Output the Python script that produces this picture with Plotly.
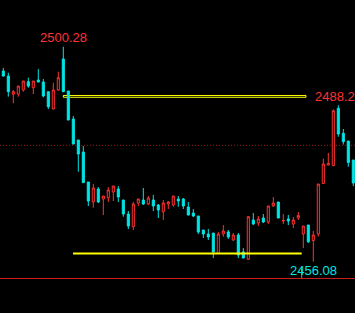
import plotly.graph_objects as go

# ---- data ----
opens = [2495.28, 2494.25, 2490.49, 2490.55, 2491.38, 2493.08, 2491.85, 2493.43, 2493.02, 2491.03,
         2487.47, 2491.38, 2497.75, 2491.17, 2485.41, 2481.10, 2478.63, 2472.46, 2468.35, 2471.02,
         2468.97, 2469.23, 2470.41, 2471.02, 2468.76, 2465.88, 2463.27, 2468.14, 2468.76, 2467.94,
         2468.76, 2467.73, 2466.35, 2467.94, 2467.73, 2468.97, 2468.97, 2467.32, 2466.09, 2465.47,
         2462.59, 2461.77, 2461.97, 2457.80, 2461.77, 2462.18, 2460.54, 2461.56, 2458.07, 2456.57,
         2464.65, 2464.03, 2465.06, 2464.24, 2467.53, 2468.35, 2464.44, 2464.85, 2463.83, 2465.06,
         2461.77, 2463.62, 2460.43, 2461.77, 2472.15, 2475.96, 2475.81, 2487.61, 2482.47, 2480.89,
         2476.98]
highs = [2495.90, 2494.93, 2491.38, 2492.20, 2493.23, 2493.91, 2493.23, 2495.69, 2493.64, 2491.03,
         2492.88, 2495.14, 2500.28, 2491.17, 2486.03, 2481.10, 2479.86, 2472.46, 2472.05, 2471.43,
         2469.58, 2471.43, 2471.64, 2471.64, 2468.76, 2466.50, 2468.35, 2468.97, 2471.23, 2469.58,
         2469.79, 2467.94, 2468.76, 2468.55, 2469.58, 2469.58, 2469.17, 2468.35, 2466.91, 2465.47,
         2462.59, 2462.80, 2461.97, 2462.18, 2463.62, 2462.59, 2461.97, 2461.97, 2458.89, 2465.47,
         2466.09, 2465.47, 2465.88, 2467.53, 2469.38, 2468.35, 2465.88, 2465.68, 2465.27, 2466.29,
         2463.41, 2463.62, 2462.39, 2472.05, 2477.29, 2478.42, 2487.37, 2488.26, 2483.36, 2480.89,
         2476.98]
lows = [2494.11, 2490.00, 2488.64, 2490.00, 2491.03, 2491.85, 2490.55, 2492.98, 2489.87, 2487.47,
        2487.40, 2491.17, 2490.95, 2485.15, 2480.22, 2474.58, 2472.25, 2467.52, 2467.18, 2468.14,
        2465.68, 2468.35, 2468.55, 2468.35, 2465.33, 2462.80, 2462.59, 2467.53, 2467.73, 2467.73,
        2466.50, 2465.06, 2464.65, 2466.91, 2467.38, 2467.38, 2466.91, 2465.62, 2465.27, 2461.77,
        2460.95, 2460.54, 2456.83, 2457.75, 2461.21, 2460.74, 2460.33, 2456.83, 2456.80, 2456.42,
        2463.62, 2463.41, 2464.03, 2463.83, 2467.32, 2465.02, 2463.83, 2463.62, 2463.00, 2464.65,
        2458.89, 2459.92, 2456.08, 2461.26, 2472.10, 2475.90, 2475.78, 2481.77, 2480.17, 2475.61,
        2471.64]
closes = [2494.25, 2491.03, 2491.03, 2492.20, 2493.23, 2492.20, 2493.23, 2493.02, 2490.14, 2487.94,
          2491.38, 2493.91, 2491.03, 2485.21, 2480.27, 2478.22, 2472.32, 2468.55, 2471.23, 2468.35,
          2469.58, 2470.82, 2471.64, 2469.38, 2465.88, 2463.41, 2467.94, 2468.97, 2467.94, 2469.17,
          2467.53, 2466.70, 2468.14, 2468.35, 2469.58, 2468.55, 2467.53, 2465.68, 2465.47, 2462.18,
          2461.77, 2461.15, 2458.07, 2461.77, 2462.39, 2461.15, 2461.56, 2457.45, 2456.83, 2465.33,
          2463.83, 2464.85, 2464.24, 2467.53, 2468.14, 2465.06, 2464.55, 2464.44, 2464.65, 2465.57,
          2463.41, 2460.19, 2461.56, 2472.05, 2476.16, 2476.27, 2487.12, 2482.33, 2480.75, 2476.47,
          2472.25]
bars = list(range(len(opens)))

prev_close = 2480.00          # dotted reference line
support_level = 2457.76       # yellow drawn line
support_span = [13.94, 59.68]
box_level = [2489.88, 2490.25]  # yellow hollow box
box_span = [12.0, 60.54]
recent_start = 60             # region for the right-hand high label

RED = "#ff3232"
CYAN = "#00e6e6"

fig = go.Figure()
fig.add_trace(go.Candlestick(
    x=bars, open=opens, high=highs, low=lows, close=closes,
    increasing=dict(line=dict(color=RED, width=1), fillcolor="#000000"),
    decreasing=dict(line=dict(color=CYAN, width=1), fillcolor=CYAN),
    whiskerwidth=0, hoverinfo="skip", showlegend=False,
))

# labels for extremes
i_max = max(bars, key=lambda i: highs[i])
i_min = min(bars, key=lambda i: lows[i])
i_rmax = max(bars[recent_start:], key=lambda i: highs[i])
lab_font = dict(family="Liberation Sans", size=13)
fig.add_annotation(x=i_max, y=highs[i_max], text=f"{highs[i_max]:.2f}", showarrow=False,
                   yanchor="middle", xanchor="center", yshift=9,
                   font=dict(color=RED, **lab_font))
fig.add_annotation(x=i_rmax, y=highs[i_rmax], text=f"{highs[i_rmax]:.2f}", showarrow=False,
                   yanchor="middle", xanchor="center", yshift=9,
                   font=dict(color=RED, **lab_font))
fig.add_annotation(x=i_min, y=lows[i_min], text=f"{lows[i_min]:.2f}", showarrow=False,
                   yanchor="middle", xanchor="center", yshift=-9,
                   font=dict(color=CYAN, **lab_font))

shapes = [
    dict(type="line", xref="paper", x0=0, x1=1, yref="y", y0=prev_close, y1=prev_close,
         line=dict(color="#9b1b1b", width=1, dash="1px,2px"), layer="below"),
    dict(type="rect", xref="x", x0=box_span[0], x1=box_span[1], yref="y",
         y0=box_level[0], y1=box_level[1],
         line=dict(color="#ffff00", width=1), fillcolor="#000000", layer="below"),
    dict(type="line", xref="x", x0=support_span[0], x1=support_span[1], yref="y",
         y0=support_level, y1=support_level, line=dict(color="#ffff00", width=2), layer="above"),
    dict(type="line", xref="paper", x0=0, x1=1, yref="paper", y0=1 - 278.5 / 313, y1=1 - 278.5 / 313,
         line=dict(color="#c81e1e", width=1), layer="above"),
    dict(type="line", xref="x", x0=support_span[1], x1=support_span[1], yref="paper",
         y0=1 - 278 / 313, y1=1 - 268 / 313, line=dict(color="#8a8a8a", width=1), layer="above"),
]

fig.update_layout(
    width=355, height=313,
    margin=dict(l=0, r=0, t=0, b=0),
    paper_bgcolor="#000000", plot_bgcolor="#000000",
    shapes=shapes,
    boxgap=0.4,
    xaxis=dict(range=[-0.66, 70.34], visible=False, rangeslider=dict(visible=False),
               showgrid=False, zeroline=False, fixedrange=True),
    yaxis=dict(range=[2445.53, 2509.88], visible=False, showgrid=False, zeroline=False,
               fixedrange=True),
    showlegend=False,
)

fig.write_html("out.html", config={"displayModeBar": False})
